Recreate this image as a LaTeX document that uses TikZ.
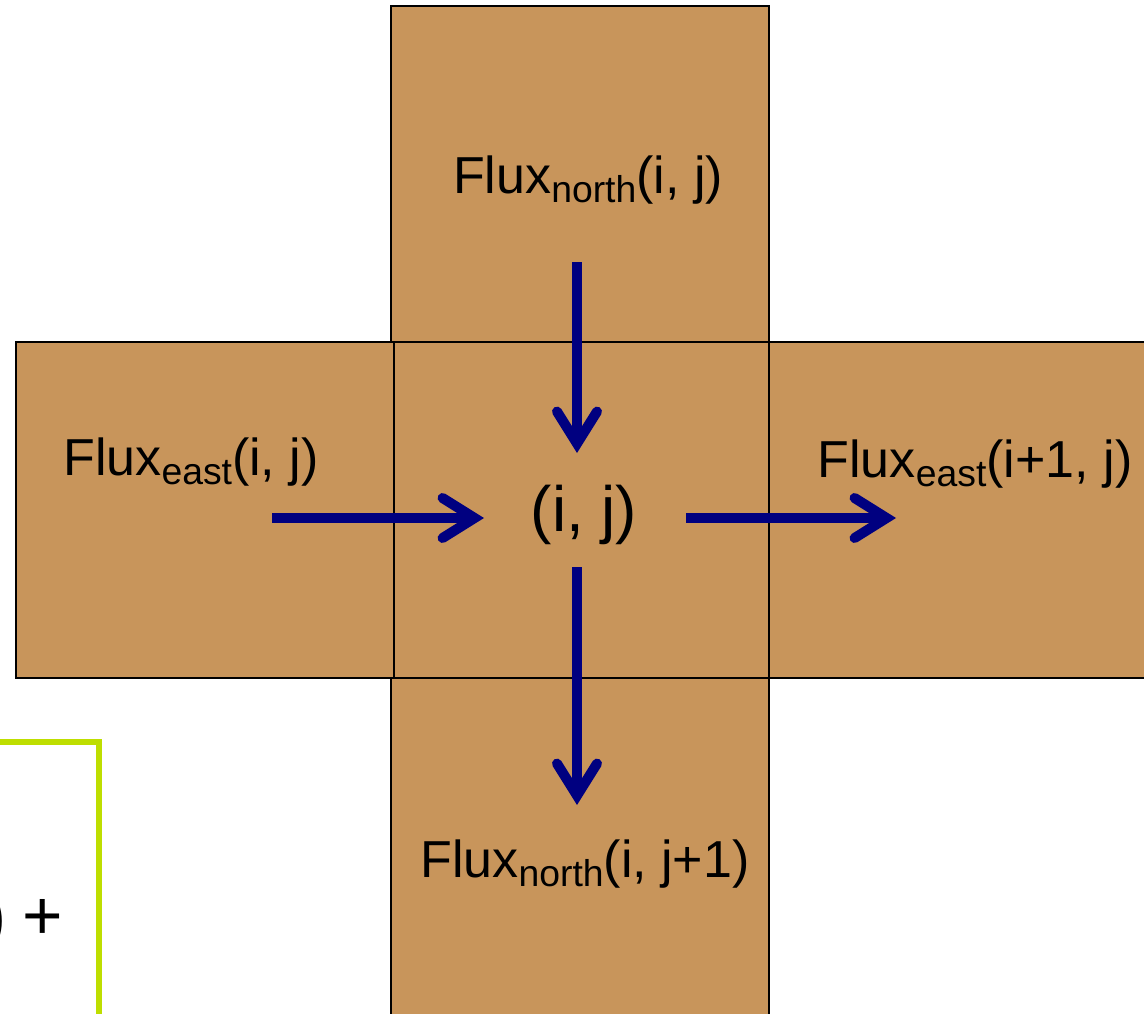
\documentclass[tikz,border=0pt]{standalone}
\usepackage{fontspec}
\setmainfont{Liberation Sans}
\usetikzlibrary{arrows.meta}
\definecolor{cellbrown}{RGB}{200,149,91}
\definecolor{fluxblue}{RGB}{0,0,128}
\definecolor{boxgreen}{RGB}{190,222,0}
\newcommand{\fluxsub}[1]{\raisebox{-7pt}{\fontsize{28}{28}\selectfont #1}}
\begin{document}
\begin{tikzpicture}[x=0.75pt, y=-0.75pt,
  cell/.style={draw=black, line width=1.2pt, fill=cellbrown},
  flux/.style={draw=fluxblue, line width=7.5pt, -{Straight Barb[length=24pt,width=30pt,line cap=round]}},
  fluxtext/.style={font=\fontsize{39}{46}\selectfont, inner sep=0pt}]
  \useasboundingbox (0,0) rectangle (1144,1013);
  \clip (0,0) rectangle (1144,1013);
  % Cells
  \draw[cell] (391,6) rectangle (769,342);
  \draw[cell] (16,342) rectangle (394,678);
  \draw[cell] (769,342) rectangle (1150,678);
  \draw[cell] (391,678) rectangle (769,1020);
  \draw[cell] (394,342) rectangle (769,678);
  % Green box (cut off)
  \draw[boxgreen, line width=3.8pt] (-20,742) -- (99,742) -- (99,1030);
  \node[fluxtext, font=\fontsize{52}{60}\selectfont, anchor=east] (plus) at (63,922) {)\hspace{12pt}+};
  % Labels
  \node[fluxtext] (fluxN)  at (588,180) {Flux\fluxsub{north}(i, j)};
  \node[fluxtext] (fluxE)  at (191,462) {Flux\fluxsub{east}(i, j)};
  \node[fluxtext] (fluxE1) at (975,464) {Flux\fluxsub{east}(i+1, j)};
  \node[fluxtext] (fluxS)  at (585,864) {Flux\fluxsub{north}(i, j+1)};
  \node[fluxtext, font=\fontsize{48}{56}\selectfont] (centre) at (584,515) {(i, j)};
  % Arrows
  \coordinate (nA) at (577,262); \coordinate (nB) at (577,453);
  \coordinate (wA) at (272,518); \coordinate (wB) at (484,518);
  \coordinate (eA) at (686,518); \coordinate (eB) at (896,518);
  \coordinate (sA) at (577,567); \coordinate (sB) at (577,805);
  \draw[flux] (nA) -- (nB);
  \draw[flux] (wA) -- (wB);
  \draw[flux] (eA) -- (eB);
  \draw[flux] (sA) -- (sB);
\end{tikzpicture}
\end{document}
